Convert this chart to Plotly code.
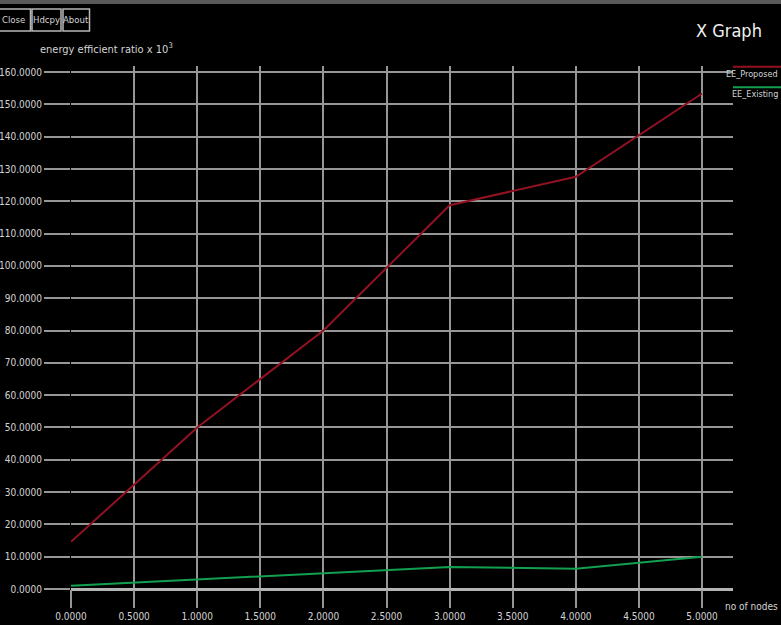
import plotly.graph_objects as go

# ---- data ----
nodes = [0, 1, 2, 3, 4, 5]
ee_proposed = [14.6, 50.0, 80.0, 118.8, 127.6, 153.4]
ee_existing = [1.0, 2.9, 4.8, 6.8, 6.3, 10.0]
x_ticks = [0, 0.5, 1, 1.5, 2, 2.5, 3, 3.5, 4, 4.5, 5]
y_ticks = list(range(0, 170, 10))
series_names = ["EE_Proposed", "EE_Existing"]

RED = "#921222"
GREEN = "#12a050"
GRID = "#969696"
TXT = "#d4d4d4"
FAM = "DejaVu Sans Condensed, Liberation Sans, sans-serif"


def fnt(size, color=TXT):
    return dict(family=FAM, size=size, color=color)


W, H = 781, 625
L, R, T, B = 71, 733, 66, 588.7


def px(x):
    return (x - L) / (R - L)


def py(y):
    return (B - y) / (B - T)


fig = go.Figure()
fig.add_trace(go.Scatter(x=nodes, y=ee_proposed, mode="lines", name=series_names[0],
                         line=dict(color=RED, width=2)))
fig.add_trace(go.Scatter(x=nodes, y=ee_existing, mode="lines", name=series_names[1],
                         line=dict(color=GREEN, width=2)))

shapes = []
annotations = []

# top window strip
shapes.append(dict(type="rect", xref="paper", yref="paper", x0=px(-5), x1=px(W + 5),
                   y0=py(4), y1=py(-5), fillcolor="#5a5a5a", line=dict(width=0), layer="above"))

# buttons
buttons = [("Close", -3, 30.5), ("Hdcpy", 32, 61), ("About", 63, 89.5)]
for label, bx0, bx1 in buttons:
    shapes.append(dict(type="rect", xref="paper", yref="paper", x0=px(bx0), x1=px(bx1),
                       y0=py(31), y1=py(9), line=dict(color="#b8b8b8", width=1.5),
                       fillcolor="rgba(0,0,0,0)"))
    annotations.append(dict(text=label, xref="paper", yref="paper", x=px((bx0 + bx1) / 2),
                            y=py(20), showarrow=False, xanchor="center", yanchor="middle",
                            font=fnt(9.5)))

# title
annotations.append(dict(text="X Graph", xref="paper", yref="paper", x=px(694), y=py(31),
                        showarrow=False, xanchor="left", yanchor="middle",
                        font=fnt(18, "#f0f0f0")))
# y axis title
annotations.append(dict(text="energy efficient ratio x 10<sup>3</sup>", xref="paper", yref="paper",
                        x=px(38), y=py(49), showarrow=False, xanchor="left", yanchor="middle",
                        font=fnt(11)))
# x axis title
annotations.append(dict(text="no of nodes", xref="paper", yref="paper", x=px(780), y=py(606),
                        showarrow=False, xanchor="right", yanchor="middle",
                        font=fnt(10)))

# legend
for i, (name, col) in enumerate(zip(series_names, [RED, GREEN])):
    ly = 66.7 + i * 20.6
    shapes.append(dict(type="line", xref="paper", yref="paper", x0=px(733), x1=px(W + 5),
                       y0=py(ly), y1=py(ly), line=dict(color=col, width=2)))
    annotations.append(dict(text=name, xref="paper", yref="paper", x=px(780), y=py(ly + 7),
                            showarrow=False, xanchor="right", yanchor="middle",
                            font=fnt(9)))

fig.update_layout(
    width=W, height=H,
    margin=dict(l=L, r=W - R, t=T, b=H - B, pad=0),
    paper_bgcolor="black", plot_bgcolor="black",
    showlegend=False,
    shapes=shapes, annotations=annotations,
    font=fnt(11),
)
fig.update_xaxes(range=[0, 5.245], tickvals=x_ticks,
                 ticktext=[f"{v:.4f}" for v in x_ticks],
                 showgrid=True, gridcolor=GRID, gridwidth=1.5,
                 ticks="outside", ticklen=18, tickcolor=GRID, tickwidth=1.5,
                 zeroline=False, showline=False, automargin=False,
                 tickfont=fnt(10))
fig.update_yaxes(range=[0, 161.9], tickvals=y_ticks,
                 ticktext=[f"{v:.4f}" for v in y_ticks],
                 showgrid=True, gridcolor=GRID, gridwidth=1.5,
                 ticks="outside", ticklen=26, tickcolor=GRID, tickwidth=1.5,
                 zeroline=True, zerolinecolor="#b4b4b4", zerolinewidth=2.5,
                 showline=False, automargin=False,
                 tickfont=fnt(10))

fig.write_html("out.html", config={"displayModeBar": False},
               post_script="document.body.style.margin='0';document.body.style.background='black';")
